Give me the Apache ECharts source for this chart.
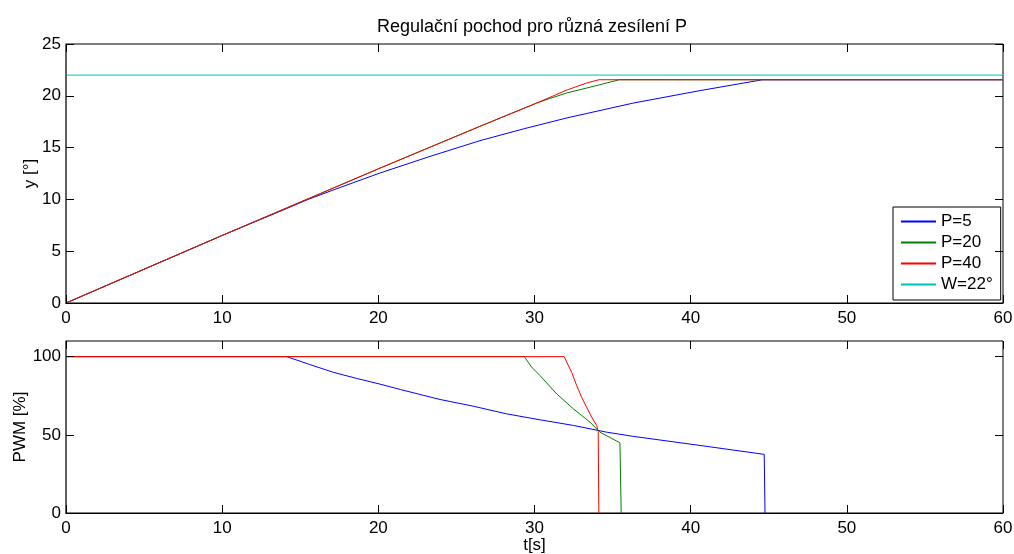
<!DOCTYPE html>
<html>
<head>
<meta charset="utf-8">
<title>Regulační pochod</title>
<script src="https://cdn.jsdelivr.net/npm/echarts@6.0.0/dist/echarts.min.js"></script>
<style>
  html, body { margin: 0; padding: 0; background: #fff; }
  #main { width: 1014px; height: 554px; }
</style>
</head>
<body>
<div id="main"></div>
<script>
// data: [t (s), value]
var xTicks = [0, 10, 20, 30, 40, 50, 60];
var yTicksTop = [0, 5, 10, 15, 20, 25];
var yTicksPwm = [0, 50, 100];

var names = ['P=5', 'P=20', 'P=40', 'W=22°'];
var colors = ['#0000ff', '#008000', '#ff0000', '#00bfbf'];

// regulovaná veličina y [°]
var yP5 = [[0, 0], [10, 6.52], [14.1, 9.1], [15.5, 10.0], [17.1, 10.9], [20.11, 12.55], [23.31, 14.15],
  [26.51, 15.67], [29.28, 16.8], [32.06, 17.86], [36.33, 19.3], [40.6, 20.5], [44.6, 21.55], [60, 21.55]];
var yP20 = [[0, 0], [10, 6.52], [20, 12.95], [26.5, 17.05], [30.14, 19.3], [31, 19.75],
  [32.06, 20.27], [34.19, 21.07], [35.43, 21.55], [60, 21.55]];
var yP40 = [[0, 0], [10, 6.52], [20, 12.95], [26.5, 17.05], [30.14, 19.3],
  [32.06, 20.55], [33.34, 21.24], [34.13, 21.55], [60, 21.55]];
var yW = [[0, 22], [60, 22]];

// akční veličina PWM [%] (po skoku na 0 leží na ose)
var pwmP5 = [[0, 100], [14.13, 100], [15.6, 95], [17.11, 90], [18.6, 86.1], [20.04, 82.6], [21.4, 79],
  [23.95, 72.6], [26.08, 68.3], [28.22, 63.4], [30.35, 59.6], [32.49, 56], [34.62, 51.7], [36.33, 49],
  [40.6, 43.2], [44.71, 37.5], [44.76, 0]];
var pwmP20 = [[0, 100], [29.35, 100], [29.8, 93.5], [30.35, 87.9], [31.42, 76.2], [32.49, 66.6],
  [33.55, 58.1], [34.19, 51.7], [35.47, 44.9], [35.55, 0]];
var pwmP40 = [[0, 100], [31.9, 100], [32.12, 95.3], [32.38, 90], [32.7, 81.5], [33.02, 74], [33.34, 67.6],
  [33.66, 61.3], [33.98, 56], [34.08, 52.3], [34.12, 0]];

var font = 'Liberation Sans, Arial, Helvetica, sans-serif';
var txt = { color: '#000', fontFamily: font, fontSize: 17 };

// osa x (dolní + zrcadlená horní bez popisků)
function xAx(grid, top, name) {
  return {
    type: 'value', gridIndex: grid, position: top ? 'top' : 'bottom',
    min: 0, max: 60, interval: 10, z: 10,
    name: name || '', nameLocation: 'middle', nameGap: 24, nameMoveOverlap: false, nameTextStyle: txt,
    axisLine: { show: !top, onZero: false, lineStyle: { color: '#000', width: 1 } },
    axisTick: { show: true, inside: true, length: 8, customValues: xTicks, lineStyle: { color: '#000' } },
    axisLabel: { show: !top, margin: 7, customValues: xTicks, color: '#000', fontFamily: font, fontSize: 17 },
    splitLine: { show: false }
  };
}

function yAx(grid, right, max, interval, ticks, name, gap) {
  return {
    type: 'value', gridIndex: grid, position: right ? 'right' : 'left',
    min: 0, max: max, interval: interval, z: 10,
    name: name || '', nameLocation: 'middle', nameGap: gap || 0, nameMoveOverlap: false, nameTextStyle: txt,
    axisLine: { show: !right, onZero: false, lineStyle: { color: '#555', width: 1.5 } },
    axisTick: { show: true, inside: true, length: 8, customValues: ticks, lineStyle: { color: '#000' } },
    axisLabel: { show: !right, margin: 5, customValues: ticks, color: '#000', fontFamily: font, fontSize: 17 },
    splitLine: { show: false }
  };
}

function line(name, color, data, xi, yi) {
  return {
    name: name, type: 'line', data: data, xAxisIndex: xi, yAxisIndex: yi,
    symbol: 'none', legendIcon: 'rect',
    lineStyle: { color: color, width: 1 }, itemStyle: { color: color }
  };
}

var chart = echarts.init(document.getElementById('main'), null, { renderer: 'canvas' });

var option = {
  backgroundColor: '#ffffff',
  animation: false,
  title: {
    text: 'Regulační pochod pro různá zesílení P',
    left: 527, top: 13, textAlign: 'center',
    textStyle: { color: '#000', fontFamily: font, fontSize: 18, fontWeight: 'normal' }
  },
  legend: {
    data: names,
    orient: 'vertical',
    left: 893, top: 207,
    padding: [6, 8, 7, 7],
    itemWidth: 35, itemHeight: 1, itemGap: 4,
    backgroundColor: '#fff',
    borderColor: '#000', borderWidth: 1,
    textStyle: txt
  },
  grid: [
    { left: 66, right: 11, top: 44, height: 259, outerBoundsMode: 'none', show: true,
      borderColor: '#000', borderWidth: 1, backgroundColor: '#fff' },
    { left: 66, right: 11, top: 341, height: 172, outerBoundsMode: 'none', show: true,
      borderColor: '#000', borderWidth: 1, backgroundColor: '#fff' }
  ],
  xAxis: [xAx(0, false), xAx(0, true), xAx(1, false, 't[s]'), xAx(1, true)],
  yAxis: [
    yAx(0, false, 25, 5, yTicksTop, 'y [°]', 27),
    yAx(0, true, 25, 5, yTicksTop),
    yAx(1, false, 110, 50, yTicksPwm, 'PWM [%]', 37),
    yAx(1, true, 110, 50, yTicksPwm)
  ],
  series: [
    line(names[0], colors[0], yP5, 0, 0),
    line(names[1], colors[1], yP20, 0, 0),
    line(names[2], colors[2], yP40, 0, 0),
    line(names[3], colors[3], yW, 0, 0),
    line(names[0], colors[0], pwmP5, 2, 2),
    line(names[1], colors[1], pwmP20, 2, 2),
    line(names[2], colors[2], pwmP40, 2, 2)
  ]
};

chart.setOption(option);
</script>
</body>
</html>
